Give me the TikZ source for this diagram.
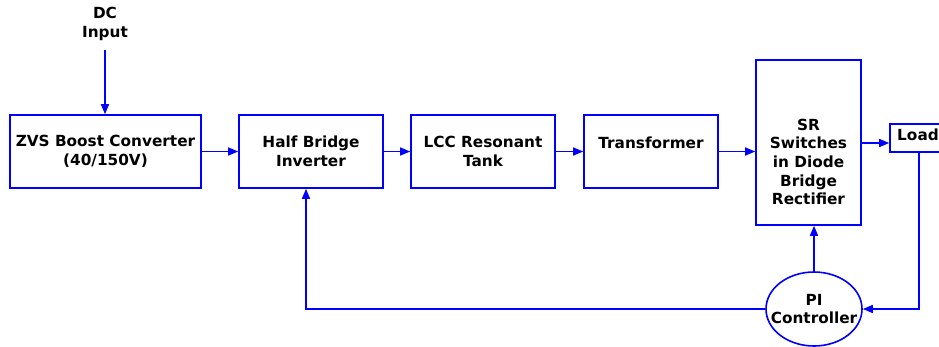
\documentclass[tikz,border=0pt]{standalone}
\usepackage{fontspec}
\setmainfont{DejaVu Sans}
\usetikzlibrary{arrows.meta,shapes.geometric}
\definecolor{lineblue}{RGB}{0,0,255}
\begin{document}
\begin{tikzpicture}[x=1pt,y=-1pt,
  every node/.style={font=\bfseries\fontsize{15.3}{18.6}\selectfont, text=black, align=center, inner sep=0pt},
  blk/.style={draw=lineblue, line width=1.6pt, rectangle},
  arr/.style={draw=lineblue, line width=1.5pt, -{Triangle[length=10pt,width=8pt]}},
  ln/.style={draw=lineblue, line width=1.5pt}]
\useasboundingbox (0,0) rectangle (939,346);
\node (dc) at (105,24) {DC\\Input};
\coordinate (dcs) at (105,50);
\node[blk, minimum width=191pt, minimum height=73pt] (zvs) at (105.5,151.5) {ZVS Boost Converter\\(40/150V)};
\node[blk, minimum width=144pt, minimum height=73pt] (hb) at (311,151.5) {Half Bridge\\Inverter};
\node[blk, minimum width=144pt, minimum height=73pt] (lcc) at (483,151.5) {LCC Resonant\\Tank};
\node[blk, minimum width=134pt, minimum height=73pt] (tr) at (651,151.5) {Transformer\\\mbox{}};
\node[blk, minimum width=105pt, minimum height=165pt] (sr) at (808.5,142.5) {};
\node (srt) at (808.5,162) {SR\\Switches\\in Diode\\Bridge\\Rectifier};
\node[blk, minimum width=58pt, minimum height=28pt] (load) at (919,138) {};
\node (loadt) at (918,135) {Load};
\node[draw=lineblue, line width=1.6pt, ellipse, minimum width=96pt, minimum height=74pt] (pi) at (814,309) {};
\node (pit) at (814,309) {PI\\Controller};
\coordinate (fb) at (306,309);
\coordinate (ldin) at ([yshift=-5pt]load.west);

\draw[arr] (dcs) -- (dcs |- zvs.north);
\draw[arr] (zvs.east) -- (hb.west);
\draw[arr] (hb.east) -- (lcc.west);
\draw[arr] (lcc.east) -- (tr.west);
\draw[arr] (tr.east) -- (tr.east -| sr.west);
\draw[arr] (ldin -| sr.east) -- (ldin);
\draw[arr] (load.south) -- (load.south |- pi.east) -- (pi.east);
\draw[arr] (pi.north) -- (pi.north |- sr.south);
\draw[arr] (pi.west) -- (fb) -- (fb |- hb.south);
\end{tikzpicture}
\end{document}
